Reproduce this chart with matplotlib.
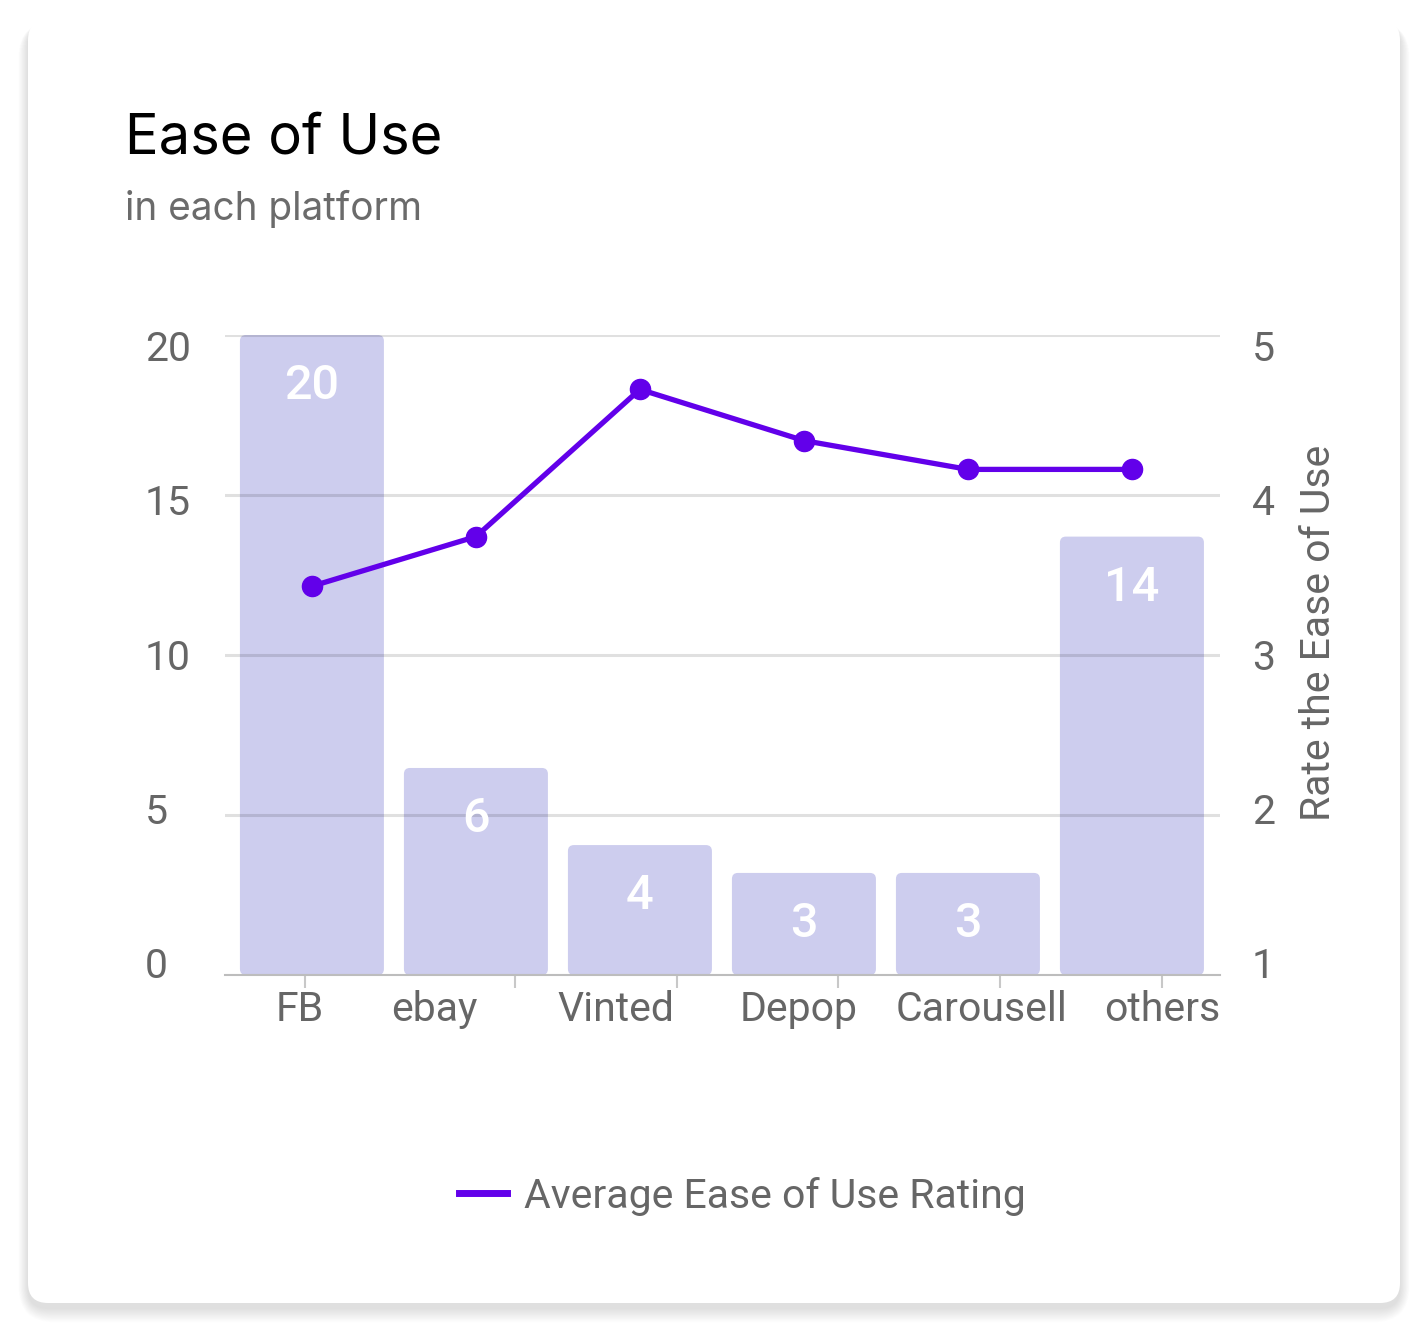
import matplotlib
matplotlib.use("Agg")
import matplotlib.pyplot as plt
from matplotlib.patches import FancyBboxPatch
from matplotlib.lines import Line2D
from matplotlib.transforms import ScaledTranslation

# ---------------- data ----------------
categories = ["FB", "ebay", "Vinted", "Depop", "Carousell", "others"]
bar_values = [20, 6.47, 4.06, 3.19, 3.19, 13.7]          # count (left axis)
rating_values = [3.43, 3.74, 4.66, 4.34, 4.16, 4.16]     # Average Ease of Use Rating (right axis)
left_ticks = [0, 5, 10, 15, 20]
right_ticks = [1, 2, 3, 4, 5]
title = "Ease of Use"
subtitle = "in each platform"
right_label = "Rate the Ease of Use"
legend_label = "Average Ease of Use Rating"

# ---------------- style / layout ----------------
W, H, DPI = 1423, 1335, 100
BAR_C = "#cdcdee"
LINE_C = "#6200ea"
TXT_C = "#666666"
FS = 29.5
FONT = ["Roboto", "DejaVu Sans"]
TFONT = ["Inter", "DejaVu Sans"]
# x tick-mark and tick-label placement (layout, in category units)
xtick_mark_pos = [-0.043, 1.238, 2.226, 3.207, 4.195, 5.183]
xtick_label_pos = [-0.073, 0.744, 1.854, 2.970, 4.085, 5.183]
# vertical nudges (px, downward) for y tick labels, bottom->top
ytick_nudge = [-13, -7, 0, 5, 11]

plt.rcParams["font.family"] = FONT
fig = plt.figure(figsize=(W / DPI, H / DPI), dpi=DPI, facecolor="white")

# ---- card background with shadow ----
bg = fig.add_axes([0, 0, 1, 1], zorder=-10)
bg.set_xlim(0, W)
bg.set_ylim(H, 0)
bg.axis("off")
for i in range(16):
    g = 16 - i
    bg.add_patch(FancyBboxPatch((28 - g * 0.6, 20 + 5 - g * 0.2), 1372 + g * 1.2, 1283 + g * 1.1,
                                boxstyle="round,pad=0,rounding_size=%f" % (20 + g),
                                fc="black", ec="none", alpha=0.008, zorder=1))
bg.add_patch(FancyBboxPatch((28, 20), 1372, 1283, boxstyle="round,pad=0,rounding_size=20",
                            fc="white", ec="none", zorder=2))

# ---- titles ----
fig.text(125 / W, 1 - 153 / H, title, fontsize=40.4, family=TFONT, color="#000000",
         ha="left", va="baseline")
fig.text(125 / W, 1 - 220 / H, subtitle, fontsize=27.9, family=TFONT, color="#6b6b6b",
         ha="left", va="baseline")

# ---- main axes ----
ax = fig.add_axes([225 / W, 1 - 975 / H, 995 / W, 640 / H])
ax.set_facecolor("none")
x = list(range(len(categories)))
bars = ax.bar(x, bar_values, width=0.878, color=BAR_C, zorder=1)
ax.set_xlim(-0.53, 5.537)
ax.set_ylim(0, 20)

# rounded bar corners (6 px), built from the drawn bars
px_x = (5.537 + 0.53) / 995
px_y = 20 / 640
for r in bars.patches:
    r.set_visible(False)
    ax.add_patch(FancyBboxPatch((r.get_x(), r.get_y()), r.get_width(), r.get_height(),
                                boxstyle="round,pad=0,rounding_size=%f" % (6 * px_x),
                                mutation_aspect=px_y / px_x, fc=BAR_C, ec="none", zorder=1))

ax.set_yticks(left_ticks)
ax.set_yticklabels([str(t) for t in left_ticks])
ax.grid(axis="y", color="black", alpha=0.12, linewidth=2.2, zorder=2)
ax.set_axisbelow(False)
for s in ["top", "left", "right"]:
    ax.spines[s].set_visible(False)
ax.spines["bottom"].set_color("#bdbdbd")
ax.spines["bottom"].set_linewidth(1.5)
ax.spines["bottom"].set_zorder(3)
ax.tick_params(axis="y", length=0, pad=80 * 0.72, labelsize=FS, labelcolor=TXT_C)
for lab in ax.get_yticklabels():
    lab.set_horizontalalignment("left")

# bar value labels
for xi, v in zip(x, bar_values):
    ax.annotate(f"{v:.0f}", (xi, v), xytext=(0, -51 * 0.72), textcoords="offset points",
                ha="center", va="center", color="white", fontsize=35, fontweight="medium", zorder=4)

# x ticks: marks and labels placed separately
ax.xaxis.remove_overlapping_locs = False
ax.set_xticks(xtick_mark_pos)
ax.set_xticklabels([""] * len(xtick_mark_pos))
ax.tick_params(axis="x", which="major", length=9, width=1.5, color="#c8c8c8")
ax.set_xticks(xtick_label_pos, minor=True)
ax.set_xticklabels(categories, minor=True)
ax.tick_params(axis="x", which="minor", length=0, pad=11, labelsize=FS, labelcolor=TXT_C)

# ---- right axis with line ----
ax2 = ax.twinx()
ax2.plot(x, rating_values, color=LINE_C, linewidth=3.8, marker="o", markersize=14.5,
         zorder=5, clip_on=False)
ax2.set_ylim(1, 5)
ax2.set_yticks(right_ticks)
ax2.set_yticklabels([str(t) for t in right_ticks])
for s in ax2.spines.values():
    s.set_visible(False)
ax2.tick_params(axis="y", length=0, pad=23, labelsize=FS, labelcolor=TXT_C)
ax2.text((1318 - 225) / 995, (975 - 633) / 640, right_label, transform=ax2.transAxes,
         rotation=90, ha="center", va="center", fontsize=FS, color=TXT_C)

# nudge y tick labels
for axis_obj in (ax, ax2):
    for lab, dy in zip(axis_obj.get_yticklabels(), ytick_nudge):
        lab.set_transform(lab.get_transform() + ScaledTranslation(0, -dy / DPI, fig.dpi_scale_trans))

# ---- legend ----
handle = Line2D([], [], color=LINE_C, linewidth=5)
fig.legend([handle], [legend_label], loc="center", bbox_to_anchor=(742 / W, 1 - 1196 / H),
           frameon=False, fontsize=FS, labelcolor=TXT_C, handlelength=1.18, handletextpad=0.41)

fig.savefig("out.png", dpi=DPI, facecolor="white")
